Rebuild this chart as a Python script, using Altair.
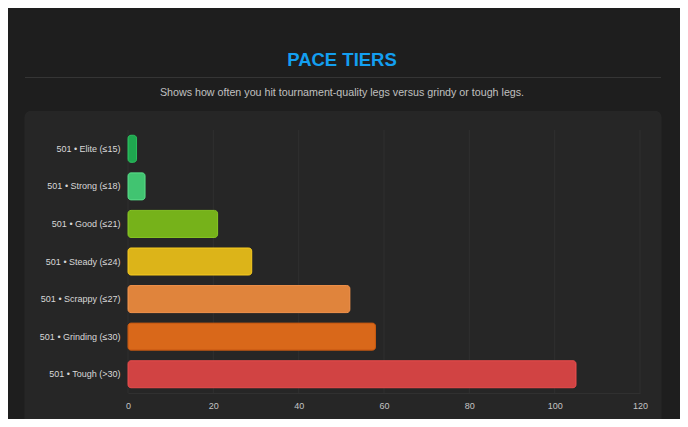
import altair as alt
import pandas as pd

categories = [
    "501 • Elite (≤15)",
    "501 • Strong (≤18)",
    "501 • Good (≤21)",
    "501 • Steady (≤24)",
    "501 • Scrappy (≤27)",
    "501 • Grinding (≤30)",
    "501 • Tough (>30)",
]
values = [2, 4, 21, 29, 52, 58, 105]
fill_colors = ["#1fa74f", "#41c471", "#76b21a", "#dcb419", "#e0843c", "#d9681a", "#d14343"]
stroke_colors = ["#2bbf5e", "#55d684", "#86c423", "#f0c51e", "#f0914a", "#c85a12", "#e44b4b"]
x_ticks = [0, 20, 40, 60, 80, 100, 120]

title_text = "PACE TIERS"
subtitle_text = "Shows how often you hit tournament-quality legs versus grindy or tough legs."

df = pd.DataFrame({"tier": categories, "count": values})
ticks_df = pd.DataFrame({"t": x_ticks})

W, H = 512, 263
one = alt.Data(values=[{}])
x_scale = alt.Scale(domain=[0, 120], nice=False)
x_axis = alt.Axis(values=x_ticks, labelFont="Liberation Sans", labelFontSize=9,
                  labelColor="#c4c4c4", labelPadding=8, ticks=False, labelFlush=False,
                  domain=True, domainColor="#303030", grid=False, zindex=1)

panel = alt.Chart(one).mark_rect(fill="#262626", cornerRadius=6).encode(
    x=alt.value(-103.5), x2=alt.value(533.5), y=alt.value(-19), y2=alt.value(300)
)
divider = alt.Chart(one).mark_rule(color="#353535", strokeWidth=1).encode(
    x=alt.value(-103), x2=alt.value(533), y=alt.value(-52.5)
)
title = alt.Chart(one).mark_text(
    text=title_text, font="Liberation Sans", fontSize=18.5, fontWeight="bold",
    color="#139ff0", align="center", baseline="middle"
).encode(x=alt.value(214), y=alt.value(-70))
subtitle = alt.Chart(one).mark_text(
    text=subtitle_text, font="Liberation Sans", fontSize=10.7,
    color="#c0c0c0", align="center", baseline="middle"
).encode(x=alt.value(214), y=alt.value(-37))

grid = alt.Chart(ticks_df).mark_rule(color="#2f2f2f", strokeWidth=1).encode(
    x=alt.X("t:Q", title=None, scale=x_scale, axis=x_axis)
)

bars = alt.Chart(df).mark_bar(cornerRadius=3, strokeWidth=1).encode(
    y=alt.Y("tier:N", sort=categories, title=None,
            scale=alt.Scale(paddingInner=0.28, paddingOuter=0.14),
            axis=alt.Axis(labelFont="Liberation Sans", labelFontSize=9, labelColor="#d8d8d8",
                          labelPadding=8, ticks=False, domain=False, grid=False, zindex=1)),
    x=alt.X("count:Q", title=None, scale=x_scale, axis=x_axis),
    fill=alt.Fill("tier:N", scale=alt.Scale(domain=categories, range=fill_colors), legend=None),
    stroke=alt.Stroke("tier:N", scale=alt.Scale(domain=categories, range=stroke_colors), legend=None),
    tooltip=["tier", "count"],
)

chart = alt.layer(panel, divider, title, subtitle, grid, bars).properties(
    width=W, height=H,
    background="#1e1e1e",
    padding={"left": 120, "top": 122, "right": 40, "bottom": 26},
    autosize=alt.AutoSizeParams(type="none"),
).configure_view(stroke=None)

chart.save("out.html", embed_options={"renderer": "svg", "actions": False})
